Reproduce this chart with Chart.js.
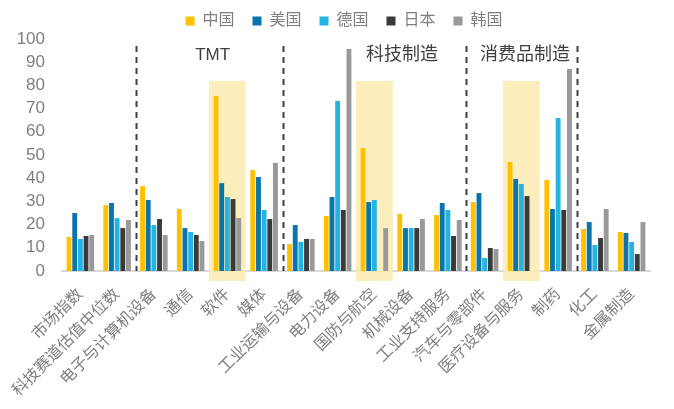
<!DOCTYPE html>
<html>
<head>
<meta charset="utf-8">
<script src="https://cdn.jsdelivr.net/npm/chart.js@4.4.1/dist/chart.umd.min.js"></script>
<style>
html, body { margin: 0; padding: 0; background: #fff; }
#wrap { width: 674px; height: 409px; }
</style>
</head>
<body>
<div id="wrap"><canvas id="chart"></canvas></div>
<script>
const categories = ['市场指数', '科技赛道估值中位数', '电子与计算机设备', '通信', '软件', '媒体',
    '工业运输与设备', '电力设备', '国防与航空', '机械设备', '工业支持服务',
    '汽车与零部件', '医疗设备与服务', '制药', '化工', '金属制造'];
const seriesNames = ['中国', '美国', '德国', '日本', '韩国'];
const china   = [14.7, 28.4, 36.6, 26.7, 75.4, 43.5, 11.6, 23.7, 53.0, 24.6, 24.1, 29.7, 47.0, 39.2, 18.1, 16.8];
const usa     = [25.0, 29.3, 30.6, 18.5, 37.9, 40.5, 19.8, 31.9, 29.7, 18.5, 29.3, 33.6, 39.7, 26.7, 21.1, 16.4];
const germany = [13.8, 22.8, 19.8, 16.8, 31.9, 26.3, 12.5, 73.3, 30.6, 18.5, 26.3, 5.6, 37.5, 65.9, 11.2, 12.5];
const japan   = [15.1, 18.5, 22.4, 15.5, 31.0, 22.4, 13.8, 26.3, null, 18.5, 15.1, 9.9, 32.3, 26.3, 14.2, 7.3];
const korea   = [15.5, 22.0, 15.5, 12.9, 22.8, 46.6, 13.8, 95.7, 18.5, 22.4, 22.0, 9.5, null, 87.1, 26.7, 21.1];
const yTicks = [0, 10, 20, 30, 40, 50, 60, 70, 80, 90, 100];

// highlighted categories and the height of the shaded band
const highlightCats = ['软件', '国防与航空', '医疗设备与服务'];
const highlightTop = 82;
// dashed dividers sit after these categories
const dividerAfter = ['科技赛道估值中位数', '媒体', '工业支持服务', '制药'];
const dividerTop = 97;
// section titles and the category position they are centred on
const sectionNames = ['TMT', '科技制造', '消费品制造'];
const sectionAt = [3.6, 8.75, 12.1];

const colors = ['#FFC000', '#0A74AD', '#24B4E2', '#3A3A3A', '#999999'];
const seriesData = [china, usa, germany, japan, korea];

const CJK = "'Liberation Sans', 'Noto Sans CJK SC', sans-serif";

const decorations = {
    id: 'decorations',
    beforeInit(chart) {
        const origFit = chart.legend.fit;
        chart.legend.fit = function () {
            origFit.call(this);
            this.height = 39;
        };
    },
    afterLayout(chart) {
        // nudge the legend row to where it sits in the original
        chart.legend.left += 19;
        chart.legend.right += 19;
        chart.legend.top -= 5;
        chart.legend.bottom -= 5;
    },
    beforeDatasetsDraw(chart) {
        const { ctx, chartArea, scales: { x, y } } = chart;
        const half = (x.getPixelForValue(1) - x.getPixelForValue(0)) / 2;
        ctx.save();
        ctx.fillStyle = 'rgba(252, 234, 176, 0.85)';
        highlightCats.forEach(c => {
            const cx = x.getPixelForValue(categories.indexOf(c));
            const top = y.getPixelForValue(highlightTop);
            ctx.fillRect(cx - half, top, half * 2, chartArea.bottom + 10 - top);
        });
        ctx.restore();
    },
    afterDatasetsDraw(chart) {
        const { ctx, chartArea, scales: { x, y } } = chart;
        ctx.save();
        ctx.strokeStyle = '#404040';
        ctx.lineWidth = 2;
        ctx.setLineDash([6, 5]);
        dividerAfter.forEach(c => {
            const px = Math.round(x.getPixelForValue(categories.indexOf(c) + 0.5)) + 0.5;
            ctx.beginPath();
            ctx.moveTo(px, y.getPixelForValue(dividerTop));
            ctx.lineTo(px, chartArea.bottom);
            ctx.stroke();
        });
        ctx.setLineDash([]);
        ctx.fillStyle = '#404040';
        ctx.textAlign = 'center';
        ctx.textBaseline = 'middle';
        sectionNames.forEach((t, i) => {
            ctx.font = (t === 'TMT' ? '17px ' : '18px ') + CJK;
            ctx.fillText(t, x.getPixelForValue(sectionAt[i]), 55);
        });
        ctx.restore();
    }
};

new Chart(document.getElementById('chart'), {
    type: 'bar',
    data: {
        labels: categories,
        datasets: seriesNames.map((n, i) => ({
            label: n,
            data: seriesData[i],
            backgroundColor: colors[i],
            barPercentage: 0.86,
            categoryPercentage: 0.77
        }))
    },
    options: {
        responsive: true,
        maintainAspectRatio: false,
        animation: false,
        layout: { padding: { right: 24 } },
        plugins: {
            legend: {
                position: 'top',
                labels: {
                    boxWidth: 9,
                    boxHeight: 9,
                    padding: 18,
                    color: '#7F7F7F',
                    font: { size: 16, family: CJK }
                }
            },
            tooltip: { enabled: false }
        },
        scales: {
            x: {
                grid: { display: false, drawTicks: false },
                border: { display: true, color: '#D9D9D9', width: 2 },
                ticks: {
                    autoSkip: false,
                    maxRotation: 45,
                    minRotation: 45,
                    padding: 14,
                    color: '#7F7F7F',
                    font: { size: 16, family: CJK }
                },
                afterFit(s) { s.height = 409 - 271; }
            },
            y: {
                min: 0,
                max: 100,
                afterBuildTicks(s) { s.ticks = yTicks.map(v => ({ value: v })); },
                grid: { display: false, drawTicks: false },
                border: { display: false },
                ticks: {
                    autoSkip: false,
                    padding: 17,
                    color: '#7F7F7F',
                    font: { size: 17, family: CJK }
                },
                afterFit(s) { s.width = 62; }
            }
        }
    },
    plugins: [decorations]
});
</script>
</body>
</html>
